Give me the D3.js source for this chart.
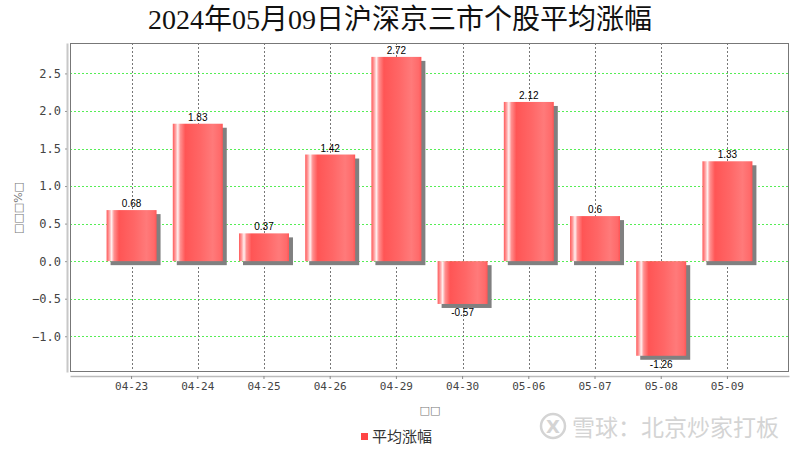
<!DOCTYPE html>
<html><head><meta charset="utf-8">
<script src="https://cdn.jsdelivr.net/npm/d3@7"></script>
<style>body{margin:0;background:#fff}svg{display:block}</style>
</head><body>
<script>
const categories = ["04-23","04-24","04-25","04-26","04-29","04-30","05-06","05-07","05-08","05-09"];
const values = [0.68,1.83,0.37,1.42,2.72,-0.57,2.12,0.6,-1.26,1.33];
const yTicks = [-1.0,-0.5,0.0,0.5,1.0,1.5,2.0,2.5];
const seriesName = "平均涨幅";
const titleText = "2024年05月09日沪深京三市个股平均涨幅";
const yLabel = "□□□%□";
const xLabel = "□□";
const watermark = "雪球：北京炒家打板";

const W=800,H=450;
const L=70,R=789,T=43,B=372;
const svg=d3.select("body").append("svg").attr("width",W).attr("height",H);
const defs=svg.append("defs");
const g=defs.append("linearGradient").attr("id","barg").attr("x1","0").attr("x2","1").attr("y1","0").attr("y2","0");
[[0,"#ff5a5a"],[0.05,"#ff9a9a"],[0.1,"#fff0f0"],[0.15,"#ff9090"],[0.25,"#ff5555"],[0.55,"#ff6666"],[0.8,"#ff7a7a"],[0.95,"#ff6a6a"],[1,"#ff5555"]]
 .forEach(([o,c])=>g.append("stop").attr("offset",o).attr("stop-color",c));

const x=d3.scaleBand().domain(categories).range([L,R]).paddingInner(0).paddingOuter(0.43);
const y=d3.scaleLinear().domain([-1.476,2.905]).range([B,T]);
const bw=x.step()*0.755;

svg.append("rect").attr("x",L).attr("y",T).attr("width",R-L).attr("height",B-T).attr("fill","#fff");

// gridlines
svg.append("g").selectAll("line").data(yTicks).join("line")
 .attr("x1",L).attr("x2",R).attr("y1",d=>Math.round(y(d))+0.5).attr("y2",d=>Math.round(y(d))+0.5)
 .attr("stroke","#55ee55").attr("stroke-dasharray","2,2").attr("stroke-width",1).attr("shape-rendering","crispEdges");
svg.append("g").selectAll("line").data(categories).join("line")
 .attr("x1",d=>Math.round(x(d)+x.bandwidth()/2)+0.5).attr("x2",d=>Math.round(x(d)+x.bandwidth()/2)+0.5)
 .attr("y1",T).attr("y2",B).attr("stroke","#777").attr("stroke-dasharray","2,2").attr("shape-rendering","crispEdges");

// bars
const data=categories.map((c,i)=>({c,v:values[i]}));
const bars=svg.append("g");
bars.selectAll("rect.sh").data(data).join("rect").attr("class","sh")
 .attr("x",d=>x(d.c)+x.bandwidth()/2-bw/2+4)
 .attr("y",d=>Math.min(y(d.v),y(0))+4)
 .attr("width",bw).attr("height",d=>Math.abs(y(d.v)-y(0))).attr("fill","#808080");
bars.selectAll("rect.b").data(data).join("rect").attr("class","b")
 .attr("x",d=>x(d.c)+x.bandwidth()/2-bw/2)
 .attr("y",d=>Math.min(y(d.v),y(0)))
 .attr("width",bw).attr("height",d=>Math.abs(y(d.v)-y(0))).attr("fill","url(#barg)");
bars.selectAll("text").data(data).join("text")
 .attr("x",d=>x(d.c)+x.bandwidth()/2)
 .attr("y",d=>d.v>=0?y(d.v)-3:y(d.v)+12)
 .attr("text-anchor","middle").attr("font-family","Liberation Sans, Arial, sans-serif").attr("font-size",10).attr("fill","#000")
 .text(d=>String(d.v));

// frame
svg.append("rect").attr("x",L+0.5).attr("y",T+0.5).attr("width",R-L-1).attr("height",B-T-1)
 .attr("fill","none").attr("stroke","#777");

// axes
const ya=svg.append("g").attr("transform",`translate(${L-3},0)`)
 .call(d3.axisLeft(y).tickValues(yTicks).tickFormat(d3.format(".1f")).tickSize(2).tickSizeOuter(0));
ya.select(".domain").attr("stroke","#c8c8c8").attr("stroke-width",2);
ya.selectAll(".tick line").attr("stroke","#999");
ya.selectAll("text").attr("font-family","DejaVu Sans Mono, monospace").attr("font-size",12).attr("fill","#444").attr("x",-6);

const xa=svg.append("g").attr("transform",`translate(0,${B+4})`)
 .call(d3.axisBottom(x).tickSize(3).tickSizeOuter(0));
xa.select(".domain").attr("stroke","#bbb").attr("stroke-width",1.5);
xa.selectAll(".tick line").attr("stroke","#888");
xa.selectAll("text").attr("font-family","DejaVu Sans Mono, monospace").attr("font-size",11).attr("fill","#444").attr("y",6);

// axis labels
svg.append("text").attr("transform","translate(22,208) rotate(-90)").attr("text-anchor","middle")
 .attr("font-family","DejaVu Sans, sans-serif").attr("font-size",11).attr("fill","#777").text(yLabel);
svg.append("text").attr("x",430).attr("y",414).attr("text-anchor","middle")
 .attr("font-family","DejaVu Sans, sans-serif").attr("font-size",11).attr("fill","#777").text(xLabel);

// title
svg.append("text").attr("x",400).attr("y",29).attr("text-anchor","middle")
 .attr("font-family","Liberation Serif, 'Noto Sans CJK SC', serif").attr("font-size",28).attr("fill","#111")
 .text(titleText);

// legend
svg.append("rect").attr("x",361).attr("y",433).attr("width",7).attr("height",7).attr("fill","#ff4444");
svg.append("text").attr("x",372).attr("y",442).attr("font-family","'Noto Sans CJK SC', sans-serif").attr("font-size",15).attr("fill","#333").text(seriesName);

// watermark
const wm=svg.append("g");
wm.append("circle").attr("cx",553).attr("cy",426).attr("r",12).attr("fill","none").attr("stroke","#d4d4d4").attr("stroke-width",2.5);
wm.append("text").attr("x",553).attr("y",433).attr("text-anchor","middle").attr("font-family","DejaVu Sans, sans-serif").attr("font-size",18).attr("font-weight","bold").attr("fill","#d4d4d4").text("X");
wm.append("text").attr("x",572).attr("y",436).attr("font-family","'Noto Sans CJK SC', sans-serif").attr("font-size",23).attr("fill","#d4d4d4").text(watermark);
</script>
</body></html>
